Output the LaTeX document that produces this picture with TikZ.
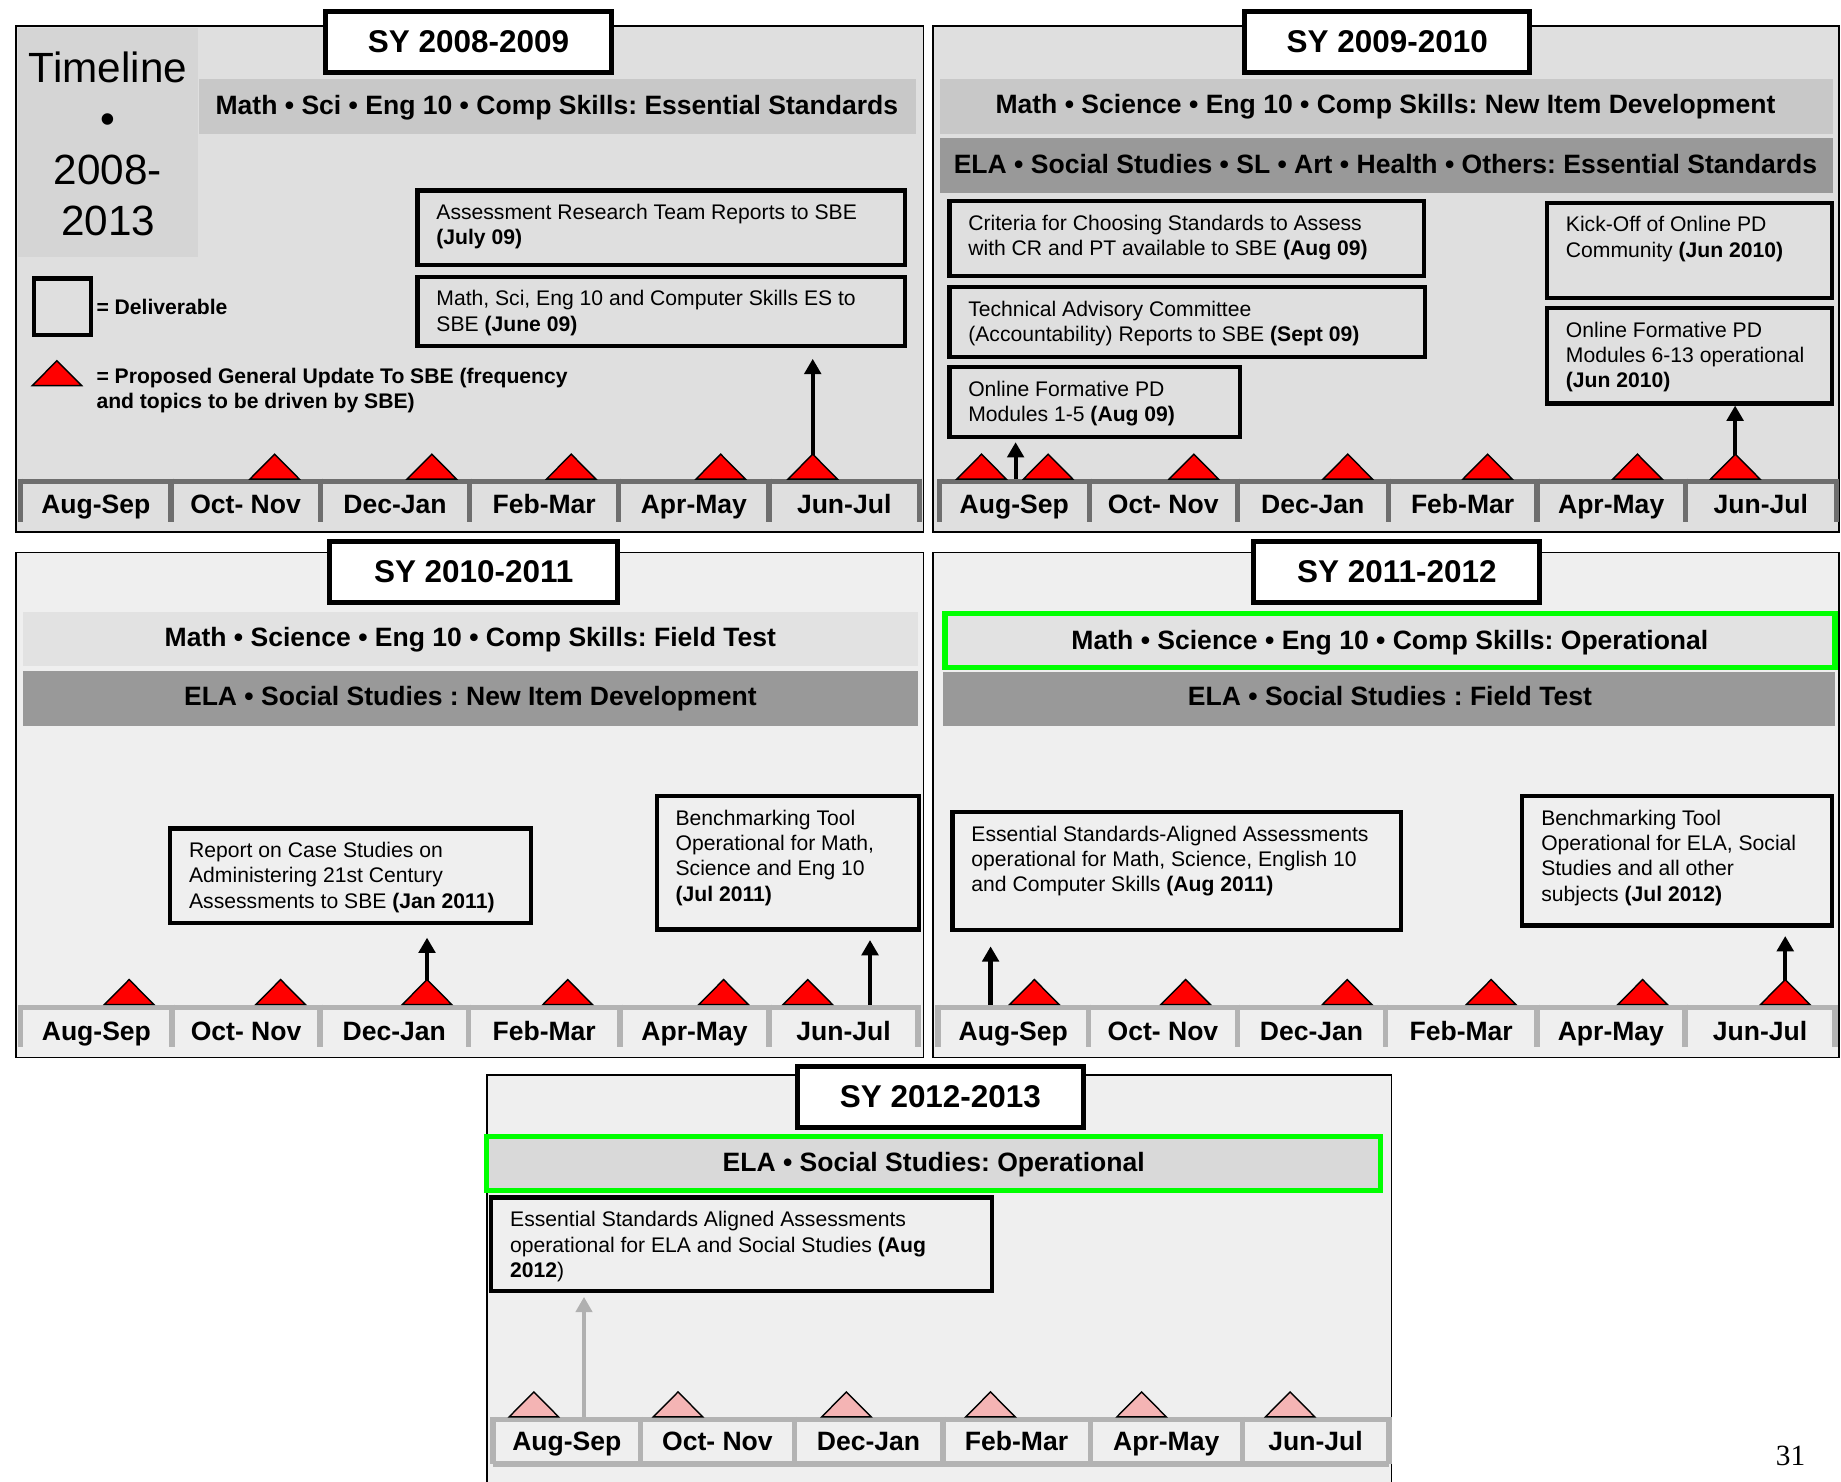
\documentclass[tikz,border=0pt]{standalone}
\usepackage{fontspec}
\setmainfont{Liberation Sans}
\newfontfamily\pagenumfont{Liberation Serif}
\usetikzlibrary{arrows.meta}
\frenchspacing

\definecolor{panelA}{HTML}{DFDFDF}
\definecolor{panelB}{HTML}{EFEFEF}
\definecolor{tlbox}{HTML}{D5D5D5}
\definecolor{bandA}{HTML}{C8C8C8}
\definecolor{bandB}{HTML}{E2E2E2}
\definecolor{bandC}{HTML}{999999}
\definecolor{bandD}{HTML}{D9D9D9}
\definecolor{barA}{HTML}{6E6E6E}
\definecolor{barB}{HTML}{B3B3B3}
\definecolor{updred}{HTML}{FF0000}
\definecolor{updpink}{HTML}{F4B4B4}
\definecolor{opgreen}{HTML}{00FF00}
\definecolor{arrgray}{HTML}{B0B0B0}

\newcommand\fTitle{\fontsize{26.8}{32}\selectfont\bfseries}
\newcommand\fBand{\fontsize{22.6}{27}\selectfont\bfseries}
\newcommand\fBox{\fontsize{18}{21.4}\selectfont}
\newcommand\fLegend{\fontsize{18}{21.5}\selectfont\bfseries}
\newcommand\fTimeline{\fontsize{36}{43.4}\selectfont}

% deliverable box from its outer corners, with its text block
\newcommand\delbox[6]{%
  \node[dbox,minimum width={#4-#2-3.6},minimum height={#5-#3-3.6}] (#1) at ({#2+1.8},{#3+1.8}) {};
  \node[dtext] (#1t) at ({#2+19.5},{#3+13.4}) {\strut#6};
}
% grey band from its corners
\newcommand\bandbox[6]{%
  \node[band=#6,minimum width={#4-#2},minimum height={#5-#3}] (#1) at (#2,#3) {};
}
% update triangle: centre x, base y, colour
\newcommand\updtri[3]{%
  \draw[updtri=#3] ({#1-21},#2) -- (#1,{#2-21.2}) -- ({#1+21},#2) -- cycle;
}
% month bar: prefix, colour, top y, bottom y, label baseline, a/b/label list
\newcommand\monthbar[6]{%
  \foreach \a/\b/\m [count=\i] in {#6} {
    \draw[barline=#2] (\a,#3) -- (\b,#3);
    \draw[barline=#2] (\a,{#3-2.3}) -- (\a,#4);
    \draw[barline=#2] (\b,{#3-2.3}) -- (\b,#4);
    \node[month] (#1m\i) at ({(\a+\b)/2},#5) {\m};
  }
}

\begin{document}
\begin{tikzpicture}[x=1pt,y=-1pt,
  frame/.style={draw=black,line width=1.4pt},
  sytitle/.style={draw=black,fill=white,line width=4.2pt,inner sep=0pt,anchor=north west,font=\fTitle},
  band/.style={fill=#1,inner sep=0pt,anchor=north west},
  bandtext/.style={font=\fBand,anchor=base,inner sep=0pt},
  greenedge/.style={draw=opgreen,line width=4.4pt},
  dbox/.style={draw=black,line width=3.6pt,inner sep=0pt,anchor=north west},
  dtext/.style={font=\fBox,align=left,anchor=north west,inner sep=0pt},
  month/.style={font=\fBand,anchor=base,inner sep=0pt},
  barline/.style={draw=#1,line width=4.6pt},
  updtri/.style={draw=black,line width=1.2pt,fill=#1},
  arr/.style={draw=#1,line width=3.6pt,-{Triangle[width=14pt,length=13pt]}},
]
\useasboundingbox (0,0) rectangle (1568,1262);
\fill[white] (0,0) rectangle (1568,1262);

% ---------------- SY 2008-2009 ----------------
\fill[panelA] (13.6,22) rectangle (786.6,453);
\draw[frame] (13.6,22) rectangle (786.6,453);
\fill[tlbox] (15,24) rectangle (169,219);
\node[font=\fTimeline,align=center,anchor=north,inner sep=0pt] (tl) at (92,40.1)
  {\strut Timeline\\•\\2008-\\2013};
\bandbox{b1}{169}{67.5}{779.6}{114}{bandA}
\node[bandtext] (b1t) at (474.3,97.5) {Math • Sci • Eng 10 • Comp Skills: Essential Standards};
\node[sytitle,minimum width={248-4.2},minimum height={56.4-4.2}] (sy1) at (275.1,7.4) {SY 2008-2009};

\delbox{A}{352}{158.6}{771}{226}{Assessment Research Team Reports to SBE\\\textbf{(July 09)}}
\delbox{B}{352}{232}{771}{295}{Math, Sci, Eng 10 and Computer Skills ES to\\SBE \textbf{(June 09)}}

\node[dbox,minimum width={52-3.6},minimum height={51.5-3.6}] (lgbox) at (27.1,235.3) {};
\node[font=\fLegend,anchor=base west,inner sep=0pt] (lg1) at (82,268.2) {= Deliverable};
\updtri{48.5}{328.4}{updred}
\node[font=\fLegend,align=left,anchor=north west,inner sep=0pt] (lg2) at (82,311)
  {\strut= Proposed General Update To SBE (frequency\\and topics to be driven by SBE)};

\coordinate (a1) at (692.2,410);
\draw[arr=black,shorten >=8.8pt] (a1) -- (a1 |- B.south);
\monthbar{p1}{barA}{410}{445}{437.7}{17.7/145.5/Aug-Sep,145.5/272.8/Oct- Nov,272.8/400/Dec-Jan,400/527/Feb-Mar,527/655/Apr-May,655/783/Jun-Jul}
\foreach \x in {233.9,367.8,486.5,613.8,692.2} {\updtri{\x}{408}{updred}}

% ---------------- SY 2009-2010 ----------------
\fill[panelA] (794.7,22) rectangle (1566.4,453);
\draw[frame] (794.7,22) rectangle (1566.4,453);
\bandbox{b2}{800}{67.5}{1560.6}{114}{bandA}
\node[bandtext] (b2t) at (1180,97) {Math • Science • Eng 10 • Comp Skills: New Item Development};
\bandbox{b3}{800}{117}{1560.6}{164}{bandC}
\node[bandtext] (b3t) at (1180,147.8) {ELA • Social Studies • SL • Art • Health • Others: Essential Standards};
\node[sytitle,minimum width={247-4.2},minimum height={56.4-4.2}] (sy2) at (1058.1,7.4) {SY 2009-2010};

\delbox{C}{805}{167.4}{1213}{235}{Criteria for Choosing Standards to Assess\\with CR and PT available to SBE \textbf{(Aug 09)}}
\delbox{D}{805}{240.8}{1214}{304}{Technical Advisory Committee\\(Accountability) Reports to SBE \textbf{(Sept 09)}}
\delbox{E}{805}{309}{1056}{372}{Online Formative PD\\Modules 1-5 \textbf{(Aug 09)}}
\delbox{F}{1314}{169}{1560.6}{254}{Kick-Off of Online PD\\Community \textbf{(Jun 2010)}}
\delbox{G}{1314}{258.5}{1560.6}{343.6}{Online Formative PD\\Modules 6-13 operational\\\textbf{(Jun 2010)}}

\coordinate (a2) at (865,410);
\coordinate (a3) at (1477.8,410);
\draw[arr=black,shorten >=2.8pt] (a2) -- (a2 |- E.south);
\draw[arr=black] (a3) -- (a3 |- G.south);
\monthbar{p2}{barA}{410}{445}{437.7}{800/927.7/Aug-Sep,927.7/1053.8/Oct- Nov,1053.8/1182.4/Dec-Jan,1182.4/1309/Feb-Mar,1309/1435.5/Apr-May,1435.5/1564/Jun-Jul}
\foreach \x in {836,892.7,1016.8,1147.9,1267,1394.6,1478} {\updtri{\x}{408}{updred}}

% ---------------- SY 2010-2011 ----------------
\fill[panelB] (13.6,470.5) rectangle (786.6,900.8);
\draw[frame] (13.6,470.5) rectangle (786.6,900.8);
\bandbox{b4}{19.2}{521}{782}{567.4}{bandB}
\node[bandtext] (b4t) at (400.6,550.7) {Math • Science • Eng 10 • Comp Skills: Field Test};
\bandbox{b5}{19.2}{571.3}{782}{618.3}{bandC}
\node[bandtext] (b5t) at (400.6,600.7) {ELA • Social Studies : New Item Development};
\node[sytitle,minimum width={249.2-4.2},minimum height={55.7-4.2}] (sy3) at (278.9,459.4) {SY 2010-2011};

\delbox{H}{141.4}{702}{452}{786}{Report on Case Studies on\\Administering 21st Century\\Assessments to SBE \textbf{(Jan 2011)}}
\delbox{I}{555.7}{674.6}{783}{791.6}{Benchmarking Tool\\Operational for Math,\\Science and Eng 10\\\textbf{(Jul 2011)}}

\coordinate (a4) at (363.7,858);
\coordinate (a5) at (741,858);
\draw[arr=black,shorten >=10.8pt] (a4) -- (a4 |- H.south);
\draw[arr=black,shorten >=7.2pt] (a5) -- (a5 |- I.south);
\monthbar{p3}{barB}{858}{892}{886}{17.7/146.5/Aug-Sep,146.5/272.7/Oct- Nov,272.7/399/Dec-Jan,399/528/Feb-Mar,528/655/Apr-May,655/782/Jun-Jul}
\foreach \x in {110,239,363.7,483.5,616.3,688} {\updtri{\x}{855.5}{updred}}

% ---------------- SY 2011-2012 ----------------
\fill[panelB] (794.7,470.5) rectangle (1566.4,900.8);
\draw[frame] (794.7,470.5) rectangle (1566.4,900.8);
\bandbox{b6}{802.6}{520.5}{1565}{570.4}{bandB}
\draw[greenedge] (804.8,522.7) rectangle (1562.8,568.2);
\node[bandtext] (b6t) at (1183.8,552.8) {Math • Science • Eng 10 • Comp Skills: Operational};
\bandbox{b7}{802.6}{572}{1563}{618.3}{bandC}
\node[bandtext] (b7t) at (1183.8,600.7) {ELA • Social Studies : Field Test};
\node[sytitle,minimum width={247.6-4.2},minimum height={55.7-4.2}] (sy4) at (1065.9,459.4) {SY 2011-2012};

\delbox{J}{807.7}{688}{1193}{792}{Essential Standards-Aligned Assessments\\operational for Math, Science, English 10\\and Computer Skills \textbf{(Aug 2011)}}
\delbox{K}{1293}{674.6}{1560}{788.3}{Benchmarking Tool\\Operational for ELA, Social\\Studies and all other\\subjects \textbf{(Jul 2012)}}

\coordinate (a6) at (843.7,858);
\coordinate (a7) at (1520.5,858);
\draw[arr=black,shorten >=12.2pt] (a6) -- (a6 |- J.south);
\draw[arr=black,shorten >=7.1pt] (a7) -- (a7 |- K.south);
\monthbar{p4}{barB}{858}{892}{886}{799/927/Aug-Sep,927/1054/Oct- Nov,1054/1180/Dec-Jan,1180/1309/Feb-Mar,1309/1435/Apr-May,1435/1563/Jun-Jul}
\foreach \x in {881,1009.8,1147.4,1270,1399,1520.5} {\updtri{\x}{855.5}{updred}}

% ---------------- SY 2012-2013 ----------------
\fill[panelB] (415,915.6) rectangle (1185,1270);
\draw[frame] (415,1270) -- (415,915.6) -- (1185,915.6) -- (1185,1270);
\bandbox{b8}{412.5}{966}{1177.8}{1015.8}{bandD}
\draw[greenedge] (414.7,968.2) rectangle (1175.6,1013.6);
\node[bandtext] (b8t) at (795.2,998) {ELA • Social Studies: Operational};
\node[sytitle,minimum width={247.7-4.2},minimum height={56-4.2}] (sy5) at (677.1,906.1) {SY 2012-2013};

\delbox{L}{414.8}{1016.4}{845}{1099.4}{Essential Standards Aligned Assessments\\operational for ELA and Social Studies \textbf{(Aug}\\\textbf{2012})}

\coordinate (a8) at (497.4,1209);
\draw[arr=arrgray,line width=3pt,shorten >=3.4pt] (a8) -- (a8 |- L.south);
\monthbar{p5}{barB}{1209}{1247}{1235}{420/545.6/Aug-Sep,545.6/676.5/Oct- Nov,676.5/803/Dec-Jan,803/928.6/Feb-Mar,928.6/1058/Apr-May,1058/1183/Jun-Jul}
\draw[barline=barB] (420,1247) -- (1183,1247);
\foreach \x in {454.7,577.5,720.9,843.6,972.3,1098.8} {\updtri{\x}{1206.7}{updpink}}

\node[font=\pagenumfont\fontsize{25}{30}\selectfont,anchor=base,inner sep=0pt] (pgno) at (1525,1248) {31};
\end{tikzpicture}
\end{document}
